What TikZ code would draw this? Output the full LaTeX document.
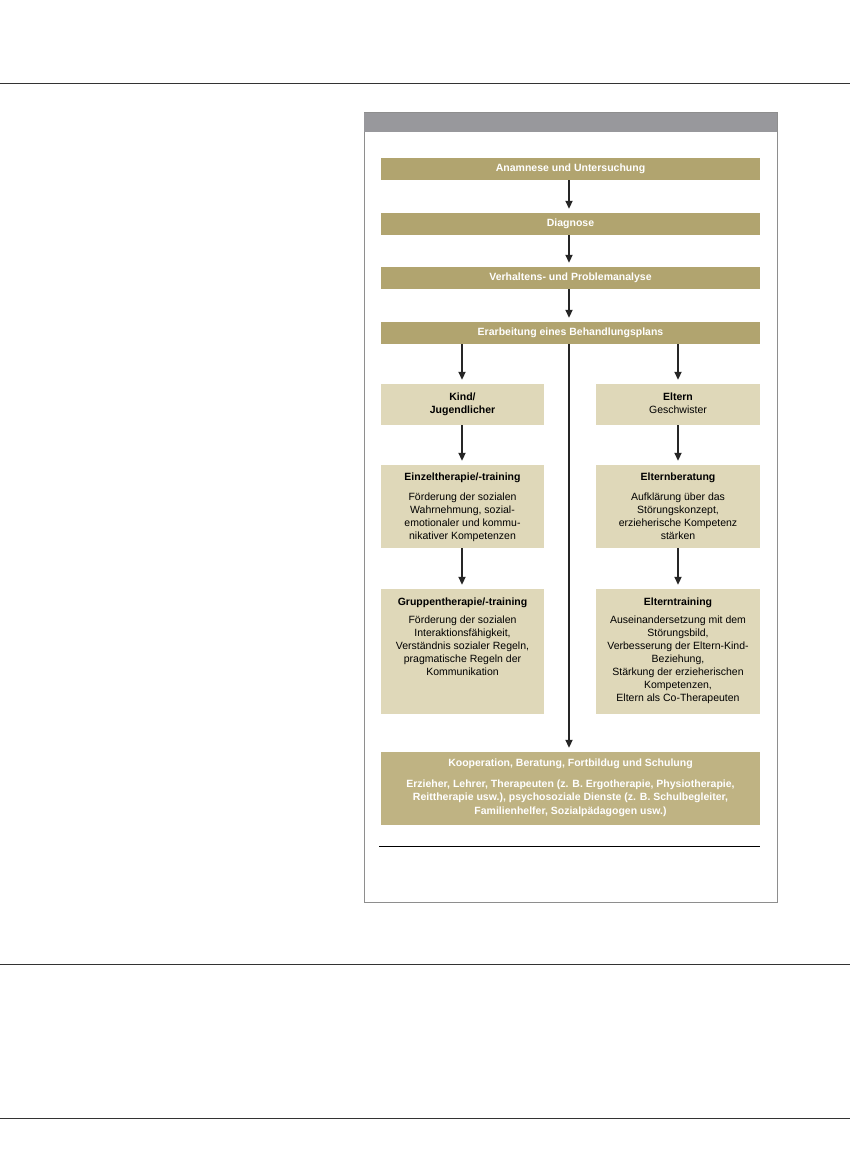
\documentclass[tikz,border=0pt]{standalone}
\usepackage{fontspec}
\setmainfont{Liberation Sans}
\usetikzlibrary{arrows.meta}
\definecolor{tan}{HTML}{B1A46F}
\definecolor{tanlight}{HTML}{BFB383}
\definecolor{beige}{HTML}{DFD8B9}
\definecolor{hdr}{HTML}{98989C}
\definecolor{framegray}{HTML}{8E8E8E}
\begin{document}
\begin{tikzpicture}[x=1pt,y=-1pt,
  tanbox/.style={fill=tan,draw=none,minimum width=379pt,minimum height=22pt,inner sep=0pt,
    text=white,font=\fontsize{10.5}{12}\selectfont\bfseries},
  lightbox/.style={fill=beige,draw=none,inner sep=0pt},
  boxtext/.style={anchor=north,align=center,inner sep=0pt,font=\fontsize{10.5}{13}\selectfont},
  arr/.style={-{Triangle[length=8pt,width=7pt]},line width=1.9pt,draw=black!85,shorten >=4pt},
  pageline/.style={draw=black!80,line width=0.8pt}]
\useasboundingbox (0,0) rectangle (850,1169);
% page rules
\draw[pageline] (0,83) coordinate (r1a) -- (850,83) coordinate (r1b);
\draw[pageline] (0,964) coordinate (r2a) -- (850,964) coordinate (r2b);
\draw[pageline] (0,1118) coordinate (r3a) -- (850,1118) coordinate (r3b);
% frame
\draw[framegray,line width=1pt] (364,113) rectangle (777,902);
\fill[hdr] (364,113) rectangle (777,132);
% main chain
\node[tanbox] (b1) at (570.5,169) {Anamnese und Untersuchung};
\node[tanbox] (b2) at (570.5,224) {Diagnose};
\node[tanbox] (b3) at (570.5,278) {Verhaltens- und Problemanalyse};
\node[tanbox] (b4) at (570.5,333) {Erarbeitung eines Behandlungsplans};
% left column
\node[lightbox,minimum width=163pt,minimum height=41pt] (kind) at (462.5,404.5) {};
\node[boxtext,font=\fontsize{10.5}{13}\selectfont\bfseries] (kindT) at (462.5,392.5) {Kind/\\Jugendlicher};
\node[lightbox,minimum width=163pt,minimum height=83pt] (einzel) at (462.5,506.5) {};
\node[boxtext] (einzelT) at (462.5,473) {\textbf{Einzeltherapie/-training}\\[6.5pt]
  Förderung der sozialen\\Wahrnehmung, sozial-\\emotionaler und kommu-\\nikativer Kompetenzen};
\node[lightbox,minimum width=163pt,minimum height=125pt] (gruppe) at (462.5,651.5) {};
\node[boxtext] (gruppeT) at (462.5,597.5) {\textbf{Gruppentherapie/-training}\\[5.5pt]
  Förderung der sozialen\\Interaktionsfähigkeit,\\Verständnis sozialer Regeln,\\pragmatische Regeln der\\Kommunikation};
% right column
\node[lightbox,minimum width=164pt,minimum height=41pt] (eltern) at (678,404.5) {};
\node[boxtext] (elternT) at (678,392.5) {\textbf{Eltern}\\Geschwister};
\node[lightbox,minimum width=164pt,minimum height=83pt] (beratung) at (678,506.5) {};
\node[boxtext] (beratungT) at (678,473) {\textbf{Elternberatung}\\[6.5pt]
  Aufklärung über das\\Störungskonzept,\\erzieherische Kompetenz\\stärken};
\node[lightbox,minimum width=164pt,minimum height=125pt] (training) at (678,651.5) {};
\node[boxtext] (trainingT) at (678,597.5) {\textbf{Elterntraining}\\[5.5pt]
  Auseinandersetzung mit dem\\Störungsbild,\\Verbesserung der Eltern-Kind-\\Beziehung,\\Stärkung der erzieherischen\\Kompetenzen,\\Eltern als Co-Therapeuten};
% bottom box
\node[fill=tanlight,draw=none,minimum width=379pt,minimum height=73pt,inner sep=0pt] (koop) at (570.5,788.5) {};
\node[boxtext,text=white,font=\fontsize{10.5}{13.5}\selectfont\bfseries] (koopT) at (570.5,759) {Kooperation, Beratung, Fortbildug und Schulung\\[7pt]
  Erzieher, Lehrer, Therapeuten (z. B. Ergotherapie, Physiotherapie,\\Reittherapie usw.), psychosoziale Dienste (z. B. Schulbegleiter,\\Familienhelfer, Sozialpädagogen usw.)};
% bottom rule
\draw[black,line width=0.9pt] (379,846) coordinate (fl1) -- (760,846) coordinate (fl2);
% arrows
\draw[arr] (b1.south -| 569,0) -- (b2.north -| 569,0);
\draw[arr] (b2.south -| 569,0) -- (b3.north -| 569,0);
\draw[arr] (b3.south -| 569,0) -- (b4.north -| 569,0);
\draw[arr] (b4.south -| 462,0) -- (kind.north -| 462,0);
\draw[arr] (b4.south -| eltern.north) -- (eltern.north);
\draw[arr] (b4.south -| 569,0) -- (koop.north -| 569,0);
\draw[arr] (kind.south -| 462,0) -- (einzel.north -| 462,0);
\draw[arr] (einzel.south -| 462,0) -- (gruppe.north -| 462,0);
\draw[arr] (eltern.south) -- (beratung.north);
\draw[arr] (beratung.south) -- (training.north);
\end{tikzpicture}
\end{document}
